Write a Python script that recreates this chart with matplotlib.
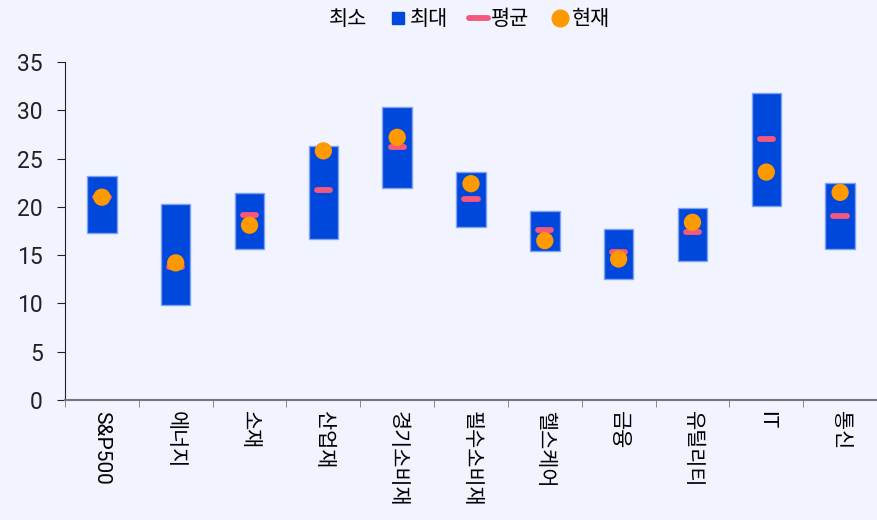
import numpy as np
import matplotlib
matplotlib.use("Agg")
import matplotlib.pyplot as plt
from matplotlib.lines import Line2D

plt.rcParams['font.family'] = ['Roboto', 'Noto Sans CJK KR', 'DejaVu Sans']

sectors = ['S&P500', '에너지', '소재', '산업재', '경기소비재', '필수소비재',
           '헬스케어', '금융', '유틸리티', 'IT', '통신']
mins = [17.3, 9.8, 15.6, 16.7, 22.0, 17.9, 15.4, 12.5, 14.4, 20.1, 15.6]
maxs = [23.2, 20.3, 21.4, 26.3, 30.3, 23.6, 19.6, 17.7, 19.9, 31.8, 22.5]
avgs = [21.0, 13.8, 19.2, 21.7, 26.2, 20.8, 17.6, 15.3, 17.4, 27.0, 19.1]
curs = [21.0, 14.2, 18.1, 25.8, 27.2, 22.4, 16.5, 14.6, 18.4, 23.6, 21.5]

bg = '#F1F4FE'
blue = '#0047DC'
pink = '#F5587E'
orange = '#FF9900'

x = np.arange(len(sectors))
mins = np.array(mins)
maxs = np.array(maxs)

fig = plt.figure(figsize=(8.77, 5.2), dpi=100, facecolor=bg)
ax = fig.add_axes([65/877, 1-400/520, 1-65/877, 338/520])
ax.set_facecolor(bg)

# invisible base bar (min) + visible range bar (min..max)
ax.bar(x, mins, width=0.4, color='none')
ax.bar(x, maxs - mins, bottom=mins, width=0.4, color=blue,
       edgecolor='#7FA2F2', linewidth=1)
ax.hlines(avgs, x - 0.09, x + 0.09, colors=pink, linewidth=4.2,
          capstyle='round', zorder=3)
ax.scatter(x, curs, s=155, color=orange, zorder=4, edgecolors='none')

ax.set_xlim(-0.5, len(sectors) - 0.5)
ax.set_ylim(0, 35)
ax.set_yticks(np.arange(0, 36, 5))
ax.set_xticks(x)
ax.set_xticklabels(sectors, rotation=270, fontsize=15, va='top', ha='center')
ax.set_xticks(np.arange(-0.5, len(sectors), 1), minor=True)
ax.tick_params(axis='x', which='major', length=0, pad=8)
ax.tick_params(axis='x', which='minor', length=5, color='#777777')
ax.tick_params(axis='y', length=6, labelsize=16.5, pad=10, colors='#222222')

for s in ['top', 'right']:
    ax.spines[s].set_visible(False)
ax.spines['left'].set_color('#222222')
ax.spines['bottom'].set_color('#777777')
ax.spines['bottom'].set_linewidth(1.5)

handles = [
    Line2D([], [], linestyle='none', marker='s', markersize=0),
    Line2D([], [], linestyle='none', marker='s', markersize=8.5, color=blue),
    Line2D([], [], color=pink, linewidth=4.2, solid_capstyle='round'),
    Line2D([], [], linestyle='none', marker='o', markersize=12, color=orange),
]
ax.legend(handles, ['최소', '최대', '평균', '현재'], loc='center',
          bbox_to_anchor=(0.485, 1.125), ncol=4, frameon=False, fontsize=15,
          handlelength=0.9, handletextpad=0.15, columnspacing=1.0)

fig.savefig('out.png', dpi=100, facecolor=bg)
